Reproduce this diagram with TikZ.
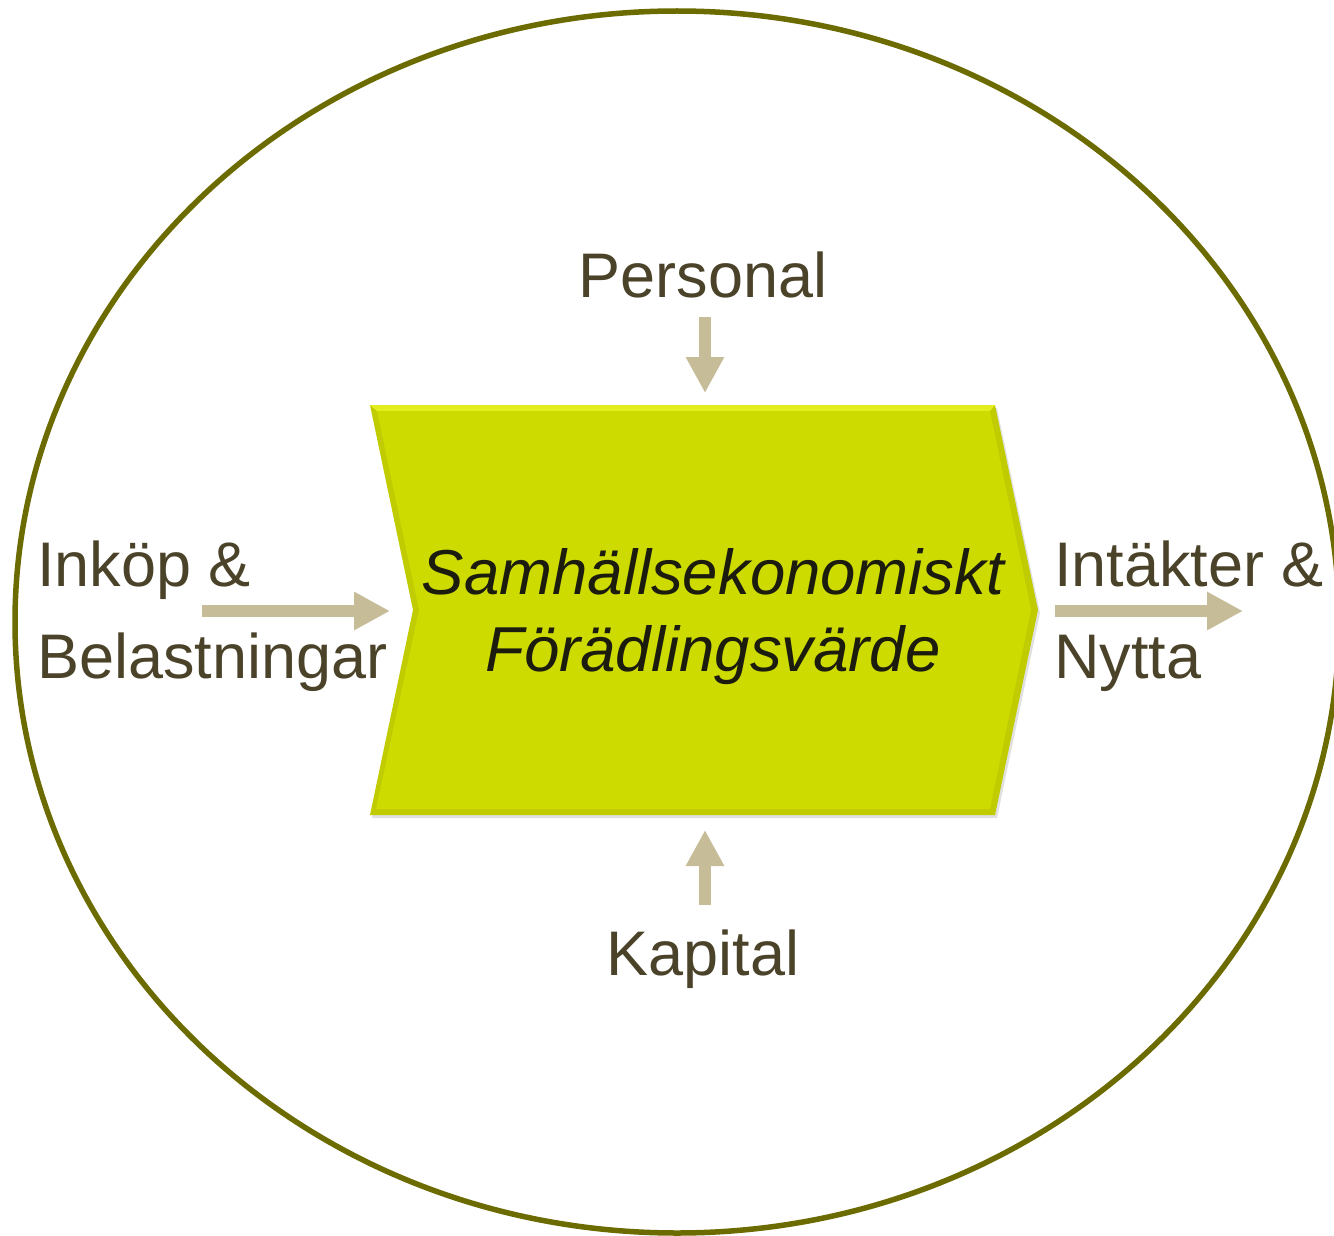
\documentclass[tikz,border=0pt]{standalone}
\usepackage{fontspec}
\setmainfont{Liberation Sans}
\usetikzlibrary{arrows.meta}
\definecolor{txt}{HTML}{4B4329}
\definecolor{arr}{HTML}{C6BD98}
\definecolor{ring}{HTML}{6B6B00}
\definecolor{chev}{HTML}{CEDB00}
\definecolor{chevdark}{HTML}{C0CC00}
\definecolor{chevlight}{HTML}{E4EE1E}
\definecolor{coretxt}{HTML}{1C1C0E}
\tikzset{
  lbl/.style={inner sep=0pt, text=txt, font=\fontsize{63}{92}\selectfont},
  coretext/.style={inner sep=0pt, text=coretxt, align=center, font=\fontsize{63.5}{77}\selectfont\itshape},
  flow/.style={draw=arr, line width=12pt, -{Triangle[length=36pt,width=36pt]}}
}
\begin{document}
\begin{tikzpicture}[x=1pt,y=-1pt]
\useasboundingbox (0,0) rectangle (1334,1236);
\clip (0,0) rectangle (1334,1236);
\fill[white] (0,0) rectangle (1334,1236);
% outer ellipse
\draw[ring, line width=5.5pt] (677,622) ellipse [x radius=662, y radius=611];
% chevron shadow
\fill[black, opacity=0.12] (372,408) -- (997,408) -- (1040,613) -- (997,818) -- (372,818) -- (415,613) -- cycle;
% chevron body with bevel
\fill[chevdark] (370,405) -- (995,405) -- (1038,610) -- (995,815) -- (370,815) -- (413,610) -- cycle;
\fill[chevlight] (370,405) -- (995,405) -- (990,411) -- (377,411) -- cycle;
\fill[chev] (377,411) -- (990,411) -- (1031,610) -- (990,809) -- (376,809) -- (419,610) -- cycle;
% texts
\node[coretext, anchor=north] (core) at (713,548) {Samhällsekonomiskt\\Förädlingsvärde};
\node[lbl, anchor=base] (personal) at (703,297) {Personal};
\node[lbl, anchor=base] (kapital) at (703,975) {Kapital};
\node[lbl, align=left, anchor=north west] (inkop) at (37,541) {Inköp \&\\Belastningar};
\node[lbl, align=left, anchor=north west] (intakt) at (1054,541) {Intäkter \&\\Nytta};
% arrow end points
\coordinate (pA) at (705,317);
\coordinate (pB) at (705,393);
\coordinate (kA) at (705,905);
\coordinate (kB) at (705,830);
\coordinate (lA) at (202,611);
\coordinate (lB) at (390,611);
\coordinate (rA) at (1055,611);
\coordinate (rB) at (1243,611);
\draw[flow] (pA) -- (pB);
\draw[flow] (kA) -- (kB);
\draw[flow] (lA) -- (lB);
\draw[flow] (rA) -- (rB);
\end{tikzpicture}
\end{document}
